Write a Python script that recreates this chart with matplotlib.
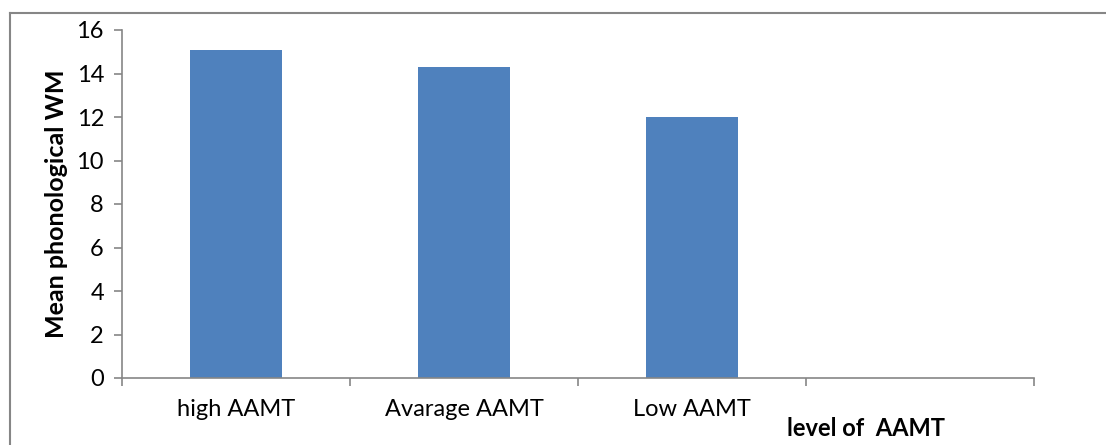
import matplotlib
matplotlib.use('Agg')
from matplotlib import pyplot as plt
from matplotlib.lines import Line2D

# mean phonological working-memory score per AAMT level
groups = ['high AAMT', 'Avarage AAMT', 'Low AAMT', '']
means = [15.1, 14.3, 12.0, None]

bar_color = '#4F81BD'
axis_gray = '#868686'

plt.rcParams['font.family'] = ['Lato', 'DejaVu Sans']

fig = plt.figure(figsize=(11.06, 4.45), dpi=100)
W, H = 1106, 445
ax = fig.add_axes([122 / W, 1 - 378 / H, (1034 - 122) / W, (378 - 30) / H])

xs = [i for i, m in enumerate(means) if m is not None]
ax.bar(xs, [means[i] for i in xs], width=0.4, color=bar_color, zorder=2)

ax.set_xlim(-0.5, len(groups) - 0.5)
ax.set_ylim(0, 16)
ax.set_yticks(range(0, 17, 2))

# tick marks sit on category boundaries, labels at the centres
ax.set_xticks([i - 0.5 for i in range(len(groups) + 1)])
ax.set_xticklabels([])
ax.set_xticks(range(len(groups)), minor=True)
ax.set_xticklabels(groups, minor=True, fontsize=17)
ax.tick_params(axis='x', which='minor', length=0, pad=15)
ax.tick_params(axis='x', which='major', length=6, color=axis_gray, width=1.2)
ax.tick_params(axis='y', length=6, color=axis_gray, width=1.2, labelsize=17, pad=7)

for side in ('top', 'right'):
    ax.spines[side].set_visible(False)
for side in ('left', 'bottom'):
    ax.spines[side].set_color(axis_gray)
    ax.spines[side].set_linewidth(1.2)

ax.set_ylabel('Mean phonological WM', fontsize=18, fontweight='bold', labelpad=6)
fig.text(787 / W, 1 - 428 / H, 'level of  AAMT', fontsize=17, fontweight='bold',
         ha='left', va='center')

# outer chart frame (top and left edges)
fig.add_artist(Line2D([10 / W, 10 / W], [0, 1 - 13 / H], transform=fig.transFigure,
                      color=axis_gray, lw=1.5))
fig.add_artist(Line2D([10 / W, 1], [1 - 13 / H, 1 - 13 / H], transform=fig.transFigure,
                      color=axis_gray, lw=1.5))

fig.savefig('out.png', dpi=100)
